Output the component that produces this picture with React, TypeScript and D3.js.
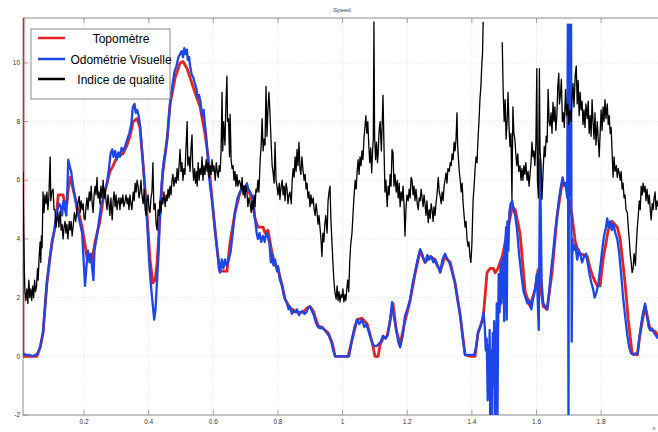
import React from "react";
import * as d3 from "d3";

type P = [number, number | null];

const xTicks = [0.2, 0.4, 0.6, 0.8, 1, 1.2, 1.4, 1.6, 1.8];
const yTicks = [-2, 0, 2, 4, 6, 8, 10];
const legendLabels = ["Topomètre", "Odométrie Visuelle", "Indice de qualité"];
const seriesColors = ["#e5231f", "#1c46e6", "#000000"];

const topometre: P[] = [
  [0.011, 12], [0.011, 0], [0.054, 0], [0.064, 0.3], [0.073, 0.8], [0.085, 2.5], [0.095, 3.4], [0.101, 3.9],
  [0.110, 4.4], [0.116, 5.0], [0.120, 5.5], [0.135, 5.5], [0.141, 5.2], [0.147, 5.2], [0.152, 5.8], [0.157, 6.1],
  [0.166, 5.7], [0.181, 5.0], [0.194, 4.4], [0.203, 3.8], [0.209, 3.35], [0.225, 3.3], [0.234, 3.9], [0.249, 4.6],
  [0.259, 5.35], [0.271, 5.9], [0.280, 6.3], [0.290, 6.5], [0.302, 6.8], [0.320, 6.9], [0.333, 7.2], [0.342, 7.5],
  [0.352, 8.0], [0.364, 8.1], [0.373, 7.8], [0.383, 6.5], [0.395, 4.8], [0.404, 3.3], [0.413, 2.5], [0.420, 2.6],
  [0.426, 3.2], [0.435, 4.8], [0.444, 6.3], [0.457, 7.4], [0.466, 8.6], [0.482, 9.5], [0.497, 10.0], [0.506, 10.05],
  [0.519, 9.8], [0.528, 9.5], [0.543, 9.0], [0.559, 8.5], [0.574, 7.6], [0.584, 6.8], [0.599, 5.0], [0.612, 3.6],
  [0.621, 2.9], [0.642, 2.9], [0.652, 3.9], [0.667, 4.9], [0.683, 5.6], [0.698, 5.8], [0.708, 5.7], [0.720, 5.3],
  [0.729, 4.7], [0.738, 4.4], [0.754, 4.4], [0.760, 4.2], [0.769, 4.3], [0.782, 3.5], [0.791, 3.1], [0.800, 3.0],
  [0.813, 2.4], [0.822, 1.95], [0.837, 1.65], [0.859, 1.5], [0.878, 1.5], [0.890, 1.65], [0.899, 1.7], [0.909, 1.55],
  [0.924, 1.05], [0.940, 0.95], [0.955, 0.8], [0.968, 0.45], [0.977, 0], [1.017, 0], [1.029, 0.55], [1.045, 1.25],
  [1.060, 1.3], [1.076, 1.1], [1.091, 0.5], [1.100, 0], [1.110, 0], [1.116, 0.4], [1.125, 0.6], [1.138, 0.7],
  [1.147, 1.2], [1.156, 1.8], [1.166, 0.9], [1.178, 0.4], [1.193, 1.2], [1.209, 1.9], [1.224, 2.8], [1.240, 3.6],
  [1.255, 3.2], [1.271, 3.4], [1.286, 3.3], [1.302, 2.9], [1.317, 3.4], [1.333, 3.2], [1.348, 2.5], [1.364, 1.4],
  [1.379, 0.05], [1.398, 0], [1.410, 0], [1.419, 0.8], [1.435, 1.3], [1.447, 2.85], [1.457, 3.0], [1.466, 3.0],
  [1.472, 2.85], [1.481, 3.0], [1.494, 3.4], [1.509, 4.2], [1.525, 5.1], [1.534, 5.0], [1.549, 4.2], [1.565, 2.2],
  [1.580, 1.7], [1.596, 2.3], [1.605, 2.95], [1.621, 1.7], [1.633, 1.6], [1.648, 2.85], [1.664, 4.8], [1.679, 5.9],
  [1.689, 5.9], [1.698, 5.5], [1.710, 4.8], [1.720, 3.9], [1.726, 3.7], [1.735, 3.5], [1.757, 3.4], [1.766, 3.0],
  [1.775, 2.7], [1.788, 2.4], [1.797, 2.4], [1.806, 3.3], [1.822, 4.3], [1.834, 4.6], [1.850, 4.4], [1.859, 4.0],
  [1.874, 2.5], [1.884, 1.25], [1.896, 0.1], [1.912, 0.05], [1.921, 0.8], [1.936, 1.7], [1.952, 0.9], [1.967, 0.85],
  [1.976, 0.7],
];

const odometrie: P[] = [
  [0.011, 0.1], [0.020, 0.05], [0.030, 0.05], [0.040, 0.0], [0.050, 0.05], [0.056, 0.1], [0.064, 0.3], [0.073, 0.8],
  [0.080, 1.8], [0.085, 2.5], [0.092, 3.2], [0.101, 3.9], [0.108, 4.3], [0.113, 4.7], [0.118, 5.0], [0.123, 5.2],
  [0.128, 5.1], [0.132, 4.8], [0.136, 5.3], [0.141, 5.0], [0.145, 4.8], [0.148, 5.6], [0.151, 6.7], [0.155, 6.5],
  [0.160, 6.3], [0.166, 5.8], [0.172, 5.4], [0.178, 5.0], [0.186, 4.6], [0.194, 4.2], [0.199, 3.2], [0.203, 2.4],
  [0.207, 3.0], [0.212, 3.6], [0.217, 3.2], [0.221, 3.5], [0.226, 2.9], [0.229, 2.6], [0.232, 3.6], [0.238, 4.0],
  [0.246, 4.6], [0.253, 5.2], [0.259, 5.35], [0.265, 5.7], [0.271, 5.9], [0.277, 6.4], [0.282, 6.9], [0.287, 7.05],
  [0.291, 6.8], [0.296, 7.0], [0.301, 6.7], [0.306, 6.95], [0.311, 6.8], [0.316, 7.1], [0.322, 7.0], [0.328, 7.2],
  [0.334, 7.4], [0.340, 7.6], [0.346, 7.9], [0.351, 8.5], [0.356, 8.6], [0.360, 8.3], [0.364, 8.4], [0.369, 8.2],
  [0.373, 7.85], [0.378, 7.2], [0.383, 6.5], [0.390, 5.4], [0.395, 4.6], [0.401, 3.3], [0.407, 2.4], [0.413, 1.7],
  [0.417, 1.25], [0.421, 1.6], [0.426, 2.6], [0.431, 3.6], [0.435, 5.0], [0.440, 5.9], [0.446, 6.6], [0.452, 7.0],
  [0.458, 7.5], [0.463, 8.2], [0.468, 8.8], [0.474, 9.3], [0.480, 9.7], [0.486, 9.9], [0.492, 10.2], [0.497, 10.3],
  [0.502, 10.4], [0.506, 10.2], [0.510, 10.5], [0.514, 10.3], [0.518, 10.45], [0.521, 10.1], [0.525, 10.2], [0.528, 9.9],
  [0.533, 9.6], [0.538, 9.5], [0.543, 9.3], [0.548, 9.1], [0.552, 8.8], [0.556, 8.9], [0.560, 8.7], [0.565, 8.2],
  [0.570, 8.4], [0.574, 7.9], [0.578, 7.5], [0.582, 6.9], [0.586, 6.2], [0.590, 5.8], [0.595, 5.4], [0.599, 5.0],
  [0.605, 4.3], [0.612, 3.65], [0.617, 3.0], [0.621, 2.85], [0.626, 3.3], [0.631, 3.0], [0.636, 3.3], [0.641, 3.1],
  [0.648, 3.3], [0.654, 3.6], [0.658, 4.0], [0.667, 4.9], [0.675, 5.4], [0.683, 5.6], [0.690, 5.8], [0.698, 5.75],
  [0.704, 5.9], [0.708, 5.7], [0.714, 5.6], [0.720, 5.45], [0.725, 5.2], [0.729, 4.7], [0.734, 4.2], [0.738, 4.0],
  [0.743, 4.2], [0.748, 3.9], [0.754, 4.1], [0.759, 3.9], [0.764, 4.2], [0.769, 4.1], [0.774, 3.8], [0.778, 3.2],
  [0.782, 3.5], [0.786, 3.1], [0.791, 3.3], [0.797, 2.9], [0.800, 3.07], [0.806, 2.6], [0.813, 2.4], [0.818, 2.1],
  [0.822, 1.95], [0.828, 1.8], [0.833, 1.6], [0.837, 1.7], [0.843, 1.45], [0.848, 1.55], [0.853, 1.5], [0.859, 1.6],
  [0.865, 1.4], [0.870, 1.5], [0.876, 1.55], [0.882, 1.45], [0.888, 1.5], [0.893, 1.65], [0.899, 1.7], [0.905, 1.55],
  [0.911, 1.4], [0.917, 1.15], [0.924, 1.0], [0.930, 0.95], [0.937, 1.0], [0.944, 0.9], [0.951, 0.8], [0.958, 0.7],
  [0.965, 0.5], [0.971, 0.2], [0.977, 0], [1.020, 0], [1.029, 0.57], [1.037, 1.0], [1.045, 1.25], [1.052, 1.1],
  [1.060, 1.25], [1.067, 1.0], [1.074, 1.1], [1.082, 0.8], [1.091, 0.47], [1.098, 0.35], [1.105, 0.35], [1.110, 0.4],
  [1.118, 0.5], [1.125, 0.7], [1.133, 0.6], [1.140, 0.75], [1.147, 1.25], [1.153, 1.85], [1.158, 1.4], [1.166, 0.9],
  [1.172, 0.5], [1.178, 0.3], [1.186, 0.7], [1.193, 1.37], [1.203, 1.7], [1.209, 1.95], [1.217, 2.5], [1.224, 2.85],
  [1.232, 3.3], [1.240, 3.65], [1.246, 3.5], [1.251, 3.3], [1.256, 3.2], [1.262, 3.45], [1.268, 3.3], [1.274, 3.4],
  [1.281, 3.2], [1.286, 3.3], [1.292, 3.1], [1.298, 3.0], [1.302, 2.85], [1.309, 3.3], [1.317, 3.5], [1.324, 3.3],
  [1.330, 3.2], [1.336, 3.0], [1.343, 2.7], [1.348, 2.5], [1.356, 1.9], [1.364, 1.37], [1.371, 0.7], [1.379, 0.05],
  [1.395, 0.05], [1.407, 0.05], [1.413, 0.3], [1.419, 0.8], [1.426, 1.0], [1.432, 1.25], [1.436, 1.5], [1.440, 1.0],
  [1.443, 0.2], [1.446, 0.6], [1.449, -1.5], [1.451, 0.4], [1.453, -0.8], [1.455, 0.9], [1.457, -2.5], [1.459, 0.2],
  [1.461, -2.5], [1.463, -0.4], [1.465, 0.8], [1.467, -1.0], [1.469, 1.2], [1.471, -2.5], [1.473, 0.5], [1.475, -0.5],
  [1.477, 1.8], [1.479, -2.5], [1.481, 0.6], [1.483, 2.8], [1.486, 1.5], [1.489, 3.2], [1.491, 1.8], [1.494, 2.6],
  [1.497, 3.4], [1.500, 1.2], [1.503, 3.8], [1.506, 4.4], [1.508, 1.25], [1.510, 4.6], [1.513, 3.6], [1.516, 4.9],
  [1.520, 5.2], [1.525, 5.3], [1.529, 5.0], [1.534, 4.8], [1.540, 4.3], [1.546, 3.5], [1.553, 2.8], [1.560, 2.2],
  [1.566, 2.0], [1.572, 1.8], [1.578, 1.9], [1.584, 1.6], [1.590, 2.0], [1.596, 2.3], [1.601, 2.8], [1.607, 0.9],
  [1.611, 6.7], [1.616, 2.5], [1.621, 1.8], [1.627, 1.7], [1.633, 1.6], [1.639, 2.2], [1.645, 2.9], [1.652, 3.6],
  [1.658, 4.3], [1.664, 4.8], [1.670, 5.4], [1.676, 5.8], [1.681, 6.1], [1.686, 5.8], [1.690, 5.9], [1.695, 5.4],
  [1.697, 11.3], [1.699, -2.5], [1.701, 11.3], [1.703, 5.5], [1.707, 11.3], [1.709, 0.5], [1.711, 4.0], [1.714, 3.6],
  [1.720, 3.8], [1.726, 3.3], [1.731, 3.6], [1.735, 3.5], [1.741, 3.2], [1.747, 3.4], [1.753, 3.5], [1.758, 3.2],
  [1.764, 2.8], [1.770, 2.5], [1.775, 2.3], [1.780, 2.0], [1.786, 2.2], [1.792, 2.5], [1.797, 3.0], [1.803, 3.6],
  [1.809, 4.1], [1.815, 4.4], [1.819, 4.7], [1.823, 4.4], [1.828, 4.6], [1.833, 4.3], [1.838, 4.5], [1.844, 4.2],
  [1.850, 4.0], [1.856, 3.5], [1.862, 2.8], [1.868, 2.0], [1.874, 1.4], [1.880, 0.8], [1.887, 0.3], [1.893, 0.1],
  [1.900, 0.05], [1.908, 0.1], [1.913, 0.1], [1.918, 0.6], [1.924, 1.1], [1.930, 1.5], [1.936, 1.8], [1.942, 1.4],
  [1.947, 1.0], [1.952, 0.9], [1.958, 0.95], [1.964, 0.8], [1.970, 0.7], [1.976, 0.6],
];

const indiceQualite: P[] = [
  [0.011, 6.3], [0.013, 4.5], [0.015, 3.0], [0.017, 2.2], [0.020, 1.9], [0.023, 2.3], [0.026, 1.8], [0.029, 2.6],
  [0.032, 2.0], [0.035, 2.3], [0.038, 1.9], [0.041, 2.4], [0.044, 2.0], [0.047, 2.6], [0.050, 2.2], [0.053, 2.4],
  [0.056, 3.0], [0.058, 2.6], [0.061, 3.4], [0.064, 3.9], [0.066, 3.2], [0.068, 4.1], [0.070, 3.7], [0.073, 5.6],
  [0.076, 4.9], [0.079, 5.5], [0.082, 5.2], [0.085, 5.6], [0.088, 5.0], [0.091, 5.4], [0.095, 6.8], [0.097, 5.3],
  [0.100, 5.6], [0.104, 5.7], [0.107, 5.0], [0.110, 5.0], [0.113, 4.4], [0.116, 4.65], [0.119, 4.9], [0.122, 4.4],
  [0.126, 4.95], [0.129, 4.3], [0.132, 4.5], [0.135, 4.0], [0.138, 4.4], [0.141, 4.6], [0.144, 4.2], [0.147, 4.5],
  [0.150, 4.0], [0.154, 4.6], [0.157, 4.3], [0.160, 4.6], [0.163, 4.1], [0.166, 4.4], [0.170, 4.9], [0.174, 4.6],
  [0.178, 5.0], [0.182, 5.3], [0.185, 5.45], [0.188, 4.9], [0.191, 5.3], [0.194, 5.0], [0.197, 5.2], [0.200, 4.7],
  [0.203, 4.65], [0.206, 5.1], [0.209, 5.4], [0.212, 5.0], [0.216, 5.6], [0.219, 5.3], [0.222, 5.8], [0.225, 5.2],
  [0.228, 4.9], [0.231, 5.5], [0.234, 5.8], [0.237, 5.5], [0.240, 6.1], [0.243, 5.4], [0.246, 5.6], [0.249, 5.2],
  [0.252, 5.8], [0.255, 5.4], [0.259, 6.0], [0.262, 5.4], [0.265, 5.7], [0.268, 5.3], [0.271, 5.0], [0.274, 5.5],
  [0.277, 5.2], [0.280, 4.8], [0.283, 5.4], [0.287, 4.65], [0.290, 5.3], [0.293, 5.6], [0.296, 5.1], [0.299, 5.5],
  [0.302, 5.0], [0.305, 5.3], [0.308, 5.4], [0.311, 5.0], [0.314, 5.4], [0.317, 5.2], [0.320, 5.5], [0.323, 5.1],
  [0.327, 5.3], [0.330, 5.5], [0.333, 5.2], [0.336, 5.4], [0.339, 5.0], [0.342, 5.5], [0.345, 5.2], [0.348, 5.0],
  [0.352, 5.6], [0.355, 5.3], [0.358, 5.9], [0.361, 5.6], [0.364, 6.0], [0.367, 5.8], [0.370, 5.4], [0.373, 5.6],
  [0.376, 6.0], [0.379, 5.5], [0.383, 5.2], [0.386, 5.7], [0.389, 5.0], [0.392, 4.8], [0.395, 5.3], [0.398, 5.5],
  [0.401, 5.0], [0.404, 4.9], [0.407, 5.4], [0.410, 5.6], [0.413, 6.6], [0.416, 5.0], [0.420, 5.2], [0.423, 4.5],
  [0.426, 4.3], [0.429, 5.0], [0.432, 4.8], [0.435, 5.3], [0.438, 4.9], [0.441, 5.4], [0.444, 5.2], [0.447, 5.6],
  [0.451, 5.1], [0.454, 5.5], [0.457, 5.3], [0.460, 5.7], [0.463, 5.4], [0.466, 5.8], [0.469, 5.5], [0.472, 6.0],
  [0.475, 6.2], [0.478, 5.8], [0.482, 6.1], [0.485, 5.9], [0.488, 6.4], [0.491, 6.0], [0.494, 6.5], [0.497, 7.05],
  [0.500, 6.3], [0.503, 6.6], [0.506, 6.0], [0.509, 6.4], [0.512, 6.2], [0.515, 7.0], [0.519, 8.0], [0.521, 6.5],
  [0.525, 6.8], [0.528, 6.3], [0.531, 7.1], [0.534, 7.55], [0.536, 6.5], [0.539, 6.0], [0.542, 6.4], [0.545, 5.9],
  [0.548, 6.3], [0.550, 5.8], [0.553, 6.6], [0.556, 6.0], [0.559, 6.4], [0.562, 6.2], [0.565, 6.8], [0.568, 6.0],
  [0.571, 6.5], [0.574, 6.2], [0.578, 6.7], [0.581, 6.3], [0.584, 6.6], [0.587, 6.1], [0.590, 6.5], [0.593, 6.2],
  [0.596, 6.7], [0.599, 6.3], [0.602, 6.5], [0.606, 6.0], [0.609, 6.6], [0.612, 6.3], [0.615, 6.1], [0.618, 6.5],
  [0.621, 6.3], [0.624, 7.0], [0.627, 9.0], [0.629, 7.0], [0.632, 8.0], [0.636, 7.2], [0.639, 8.6], [0.642, 9.55],
  [0.644, 8.0], [0.647, 8.1], [0.650, 6.8], [0.652, 8.25], [0.655, 6.7], [0.658, 6.4], [0.661, 6.5], [0.664, 6.0],
  [0.667, 6.3], [0.670, 5.8], [0.673, 6.2], [0.676, 5.8], [0.680, 6.0], [0.683, 5.9], [0.686, 5.7], [0.689, 6.1],
  [0.692, 5.5], [0.695, 5.8], [0.698, 5.4], [0.701, 5.8], [0.704, 5.6], [0.707, 5.1], [0.710, 5.4], [0.714, 5.2],
  [0.717, 4.9], [0.720, 5.3], [0.723, 5.0], [0.726, 5.5], [0.729, 5.1], [0.732, 5.7], [0.735, 5.6], [0.738, 6.0],
  [0.741, 5.6], [0.745, 6.7], [0.748, 7.2], [0.751, 8.1], [0.754, 7.0], [0.757, 7.4], [0.760, 7.2], [0.763, 9.2],
  [0.766, 7.5], [0.769, 8.4], [0.772, 9.0], [0.775, 8.35], [0.778, 7.5], [0.782, 6.5], [0.785, 6.25], [0.788, 5.9],
  [0.791, 7.3], [0.794, 6.0], [0.797, 5.8], [0.800, 5.5], [0.804, 5.9], [0.806, 5.35], [0.810, 5.8], [0.813, 6.0],
  [0.816, 5.5], [0.819, 5.8], [0.822, 5.3], [0.825, 5.9], [0.828, 5.7], [0.831, 5.2], [0.834, 5.5], [0.837, 5.6],
  [0.841, 5.2], [0.844, 6.0], [0.847, 6.4], [0.850, 6.1], [0.853, 6.8], [0.856, 6.3], [0.859, 7.05], [0.862, 6.5],
  [0.865, 7.3], [0.868, 6.4], [0.871, 6.2], [0.874, 6.8], [0.878, 6.3], [0.881, 6.0], [0.884, 6.2], [0.887, 5.7],
  [0.890, 5.9], [0.893, 5.4], [0.896, 5.6], [0.899, 5.1], [0.902, 5.5], [0.905, 5.2], [0.909, 5.4], [0.912, 5.0],
  [0.915, 4.8], [0.918, 5.2], [0.921, 4.9], [0.924, 4.5], [0.927, 4.8], [0.930, 4.4], [0.933, 4.0], [0.936, 3.4],
  [0.939, 4.2], [0.942, 3.9], [0.945, 4.5], [0.948, 4.8], [0.952, 4.2], [0.955, 5.3], [0.958, 5.6], [0.961, 5.8],
  [0.964, 4.6], [0.967, 3.9], [0.970, 3.2], [0.973, 2.6], [0.976, 2.2], [0.980, 1.95], [0.983, 2.4], [0.986, 1.9],
  [0.989, 2.2], [0.992, 1.85], [0.995, 2.1], [0.998, 2.0], [1.001, 2.3], [1.004, 1.85], [1.007, 2.1], [1.010, 1.9],
  [1.013, 2.3], [1.016, 2.6], [1.019, 2.2], [1.022, 3.2], [1.025, 3.8], [1.029, 4.2], [1.032, 4.8], [1.035, 5.4],
  [1.039, 6.0], [1.042, 5.7], [1.045, 6.3], [1.048, 6.7], [1.051, 6.2], [1.054, 6.8], [1.057, 6.5], [1.060, 7.0],
  [1.063, 6.7], [1.066, 7.4], [1.069, 7.8], [1.072, 8.2], [1.075, 7.6], [1.078, 8.0], [1.081, 7.2], [1.084, 6.6],
  [1.087, 7.1], [1.090, 6.25], [1.093, 7.05], [1.095, 7.4], [1.097, 11.4], [1.099, 7.5], [1.102, 6.7], [1.105, 7.3],
  [1.108, 6.6], [1.110, 6.9], [1.113, 7.7], [1.116, 8.0], [1.120, 7.0], [1.125, 8.9], [1.128, 7.2], [1.131, 5.6],
  [1.134, 6.0], [1.138, 5.1], [1.141, 5.8], [1.144, 5.5], [1.147, 6.2], [1.150, 5.8], [1.153, 7.05], [1.156, 6.95],
  [1.159, 5.8], [1.162, 6.2], [1.166, 5.6], [1.169, 6.0], [1.172, 5.4], [1.175, 5.9], [1.178, 5.1], [1.181, 5.6],
  [1.184, 5.3], [1.187, 5.8], [1.190, 5.2], [1.193, 4.1], [1.196, 5.0], [1.199, 5.5], [1.203, 5.3], [1.206, 5.7],
  [1.209, 5.4], [1.212, 6.1], [1.215, 6.0], [1.218, 5.5], [1.221, 5.8], [1.224, 5.3], [1.227, 5.7], [1.231, 5.2],
  [1.234, 5.0], [1.237, 5.4], [1.240, 5.3], [1.243, 5.7], [1.246, 5.4], [1.249, 5.1], [1.252, 5.5], [1.255, 5.2],
  [1.258, 4.8], [1.261, 5.3], [1.265, 4.55], [1.268, 5.0], [1.271, 4.7], [1.274, 5.2], [1.277, 5.0], [1.280, 4.6],
  [1.283, 5.1], [1.286, 4.8], [1.289, 5.2], [1.292, 5.5], [1.296, 6.1], [1.299, 5.6], [1.302, 5.45], [1.305, 5.2],
  [1.308, 5.6], [1.311, 5.3], [1.314, 5.8], [1.317, 6.0], [1.320, 6.25], [1.323, 5.9], [1.326, 6.4], [1.330, 6.3],
  [1.333, 6.6], [1.336, 6.5], [1.339, 6.9], [1.342, 6.7], [1.345, 7.3], [1.348, 7.0], [1.351, 7.4], [1.354, 8.3],
  [1.356, 7.2], [1.358, 6.8], [1.361, 6.3], [1.364, 6.0], [1.367, 5.6], [1.370, 5.9], [1.373, 5.2], [1.376, 4.8],
  [1.379, 4.4], [1.382, 4.6], [1.385, 4.0], [1.388, 3.75], [1.391, 3.9], [1.394, 3.4], [1.397, 3.2], [1.400, 3.8],
  [1.402, 4.6], [1.404, 5.35], [1.407, 5.8], [1.410, 6.4], [1.413, 6.8], [1.416, 6.6], [1.419, 7.4], [1.422, 8.0],
  [1.425, 8.75], [1.428, 9.2], [1.431, 10.0], [1.433, 10.3], [1.435, 11.4], [1.436, null], [1.494, 10.7],
  [1.497, 9.0], [1.500, 8.0], [1.503, 8.75], [1.506, 7.4], [1.509, 8.0], [1.512, 9.0], [1.515, 7.8], [1.518, 7.15],
  [1.521, 7.6], [1.524, 5.35], [1.527, 8.5], [1.530, 7.6], [1.533, 7.4], [1.536, 6.9], [1.539, 6.5], [1.542, 6.9],
  [1.545, 6.3], [1.549, 6.5], [1.552, 6.0], [1.555, 6.4], [1.558, 6.0], [1.561, 6.5], [1.564, 6.2], [1.567, 6.6],
  [1.571, 6.0], [1.574, 6.3], [1.577, 5.8], [1.580, 6.2], [1.583, 6.6], [1.586, 7.3], [1.589, 6.8], [1.592, 7.0],
  [1.595, 6.5], [1.598, 7.2], [1.601, 9.8], [1.603, 6.0], [1.606, 5.4], [1.609, 9.8], [1.611, 7.0], [1.614, 6.5],
  [1.617, 5.35], [1.620, 6.2], [1.624, 7.15], [1.627, 6.8], [1.630, 7.5], [1.633, 7.3], [1.636, 9.1], [1.639, 8.0],
  [1.642, 7.85], [1.645, 8.3], [1.648, 7.6], [1.651, 8.65], [1.654, 8.0], [1.657, 8.5], [1.660, 7.7], [1.663, 8.2],
  [1.666, 9.2], [1.669, 9.65], [1.671, 8.6], [1.674, 8.9], [1.677, 9.45], [1.680, 8.0], [1.683, 8.3], [1.686, 7.8],
  [1.690, 9.1], [1.693, 8.2], [1.697, 8.6], [1.700, 7.9], [1.703, 8.4], [1.707, 8.0], [1.710, 8.8], [1.713, 9.3],
  [1.716, 8.5], [1.720, 9.6], [1.723, 9.9], [1.726, 8.6], [1.729, 9.4], [1.732, 8.2], [1.735, 9.0], [1.738, 8.4],
  [1.741, 8.7], [1.744, 7.9], [1.747, 8.4], [1.750, 7.8], [1.753, 8.6], [1.757, 8.1], [1.760, 8.7], [1.763, 7.6],
  [1.766, 8.2], [1.769, 7.5], [1.772, 8.75], [1.775, 8.0], [1.778, 7.4], [1.781, 8.3], [1.784, 7.2], [1.788, 8.0],
  [1.791, 7.4], [1.794, 6.8], [1.797, 7.6], [1.800, 8.4], [1.803, 7.7], [1.806, 8.5], [1.809, 8.0], [1.812, 8.75],
  [1.815, 8.1], [1.819, 8.6], [1.822, 7.9], [1.825, 8.2], [1.828, 7.6], [1.831, 7.8], [1.834, 6.95], [1.837, 6.1],
  [1.840, 6.8], [1.843, 6.3], [1.847, 6.5], [1.850, 6.1], [1.853, 6.4], [1.856, 6.25], [1.859, 6.0], [1.862, 6.3],
  [1.865, 5.7], [1.868, 5.9], [1.871, 5.4], [1.874, 5.5], [1.877, 5.0], [1.881, 4.9], [1.884, 4.4], [1.887, 4.0],
  [1.890, 3.5], [1.893, 3.2], [1.896, 2.85], [1.899, 3.0], [1.902, 3.5], [1.906, 3.1], [1.909, 3.8], [1.912, 4.4],
  [1.915, 4.8], [1.918, 5.3], [1.921, 5.0], [1.924, 5.8], [1.927, 5.5], [1.930, 5.9], [1.933, 5.6], [1.936, 5.8],
  [1.939, 5.3], [1.942, 5.7], [1.946, 5.2], [1.949, 5.5], [1.952, 5.0], [1.955, 4.65], [1.958, 5.2], [1.961, 5.0],
  [1.964, 5.4], [1.967, 5.6], [1.970, 5.0], [1.973, 5.3], [1.976, 5.1],
];

const W = 658;
const H = 432;
const left = 23;
const top = 18;
const right = 658;
const bottom = 415;

export default function App() {
  const x = d3.scaleLinear().domain([0.011, 1.976]).range([left, right]);
  const y = d3.scaleLinear().domain([-2, 11.53]).range([bottom, top]);
  const line = d3
    .line<P>()
    .defined((d) => d[1] !== null)
    .x((d) => x(d[0]))
    .y((d) => y(d[1] as number));

  const series = [
    { data: topometre, color: seriesColors[0], width: 2.8 },
    { data: odometrie, color: seriesColors[1], width: 2.3 },
    { data: indiceQualite, color: seriesColors[2], width: 1.3 },
  ];

  const font = "Liberation Sans, Arial, Helvetica, sans-serif";
  const legendY = [38, 59, 79];

  return (
    <svg
      width={W}
      height={H}
      style={{ position: "absolute", left: 0, top: 0, background: "#fff" }}
      fontFamily={font}
    >
      <rect x={0} y={0} width={W} height={H} fill="#fff" />
      <defs>
        <clipPath id="plotclip">
          <rect x={left} y={top} width={right - left} height={bottom - top} />
        </clipPath>
      </defs>
      {/* grid */}
      {xTicks.map((t) => (
        <line key={"gx" + t} x1={x(t)} x2={x(t)} y1={top} y2={bottom} stroke="#e2e2e2" strokeWidth={0.8} strokeDasharray="1.5,1.5" />
      ))}
      {yTicks.filter((t) => t > -2).map((t) => (
        <line key={"gy" + t} x1={left} x2={right} y1={y(t)} y2={y(t)} stroke="#e2e2e2" strokeWidth={0.8} strokeDasharray="1.5,1.5" />
      ))}
      {/* frame */}
      <line x1={left} x2={right} y1={top} y2={top} stroke="#8a8a8a" strokeWidth={1} />
      <line x1={left} x2={right} y1={bottom} y2={bottom} stroke="#8a8a8a" strokeWidth={1} />
      <line x1={left} x2={left} y1={top} y2={bottom} stroke="#8a8a8a" strokeWidth={1} />
      {/* ticks */}
      {xTicks.map((t) => (
        <g key={"tx" + t}>
          <line x1={x(t)} x2={x(t)} y1={bottom} y2={bottom - 5} stroke="#8a8a8a" strokeWidth={0.8} />
          <line x1={x(t)} x2={x(t)} y1={top} y2={top + 5} stroke="#8a8a8a" strokeWidth={0.8} />
          <text x={x(t)} y={424} fontSize={6.5} textAnchor="middle" fill="#333">
            {String(t)}
          </text>
        </g>
      ))}
      {yTicks.map((t) => (
        <g key={"ty" + t}>
          <line x1={left} x2={left + 5} y1={y(t)} y2={y(t)} stroke="#8a8a8a" strokeWidth={0.8} />
          <text x={20} y={y(t) + 2.2} fontSize={6.5} textAnchor="end" fill="#333">
            {String(t)}
          </text>
        </g>
      ))}
      <text x={342} y={12} fontSize={6} textAnchor="middle" fill="#444">Speed</text>
      <text x={654} y={430} fontSize={6} textAnchor="middle" fill="#444">x</text>
      {/* series */}
      <g clipPath="url(#plotclip)">
        {series.map((s, i) => (
          <path key={i} d={line(s.data) || ""} fill="none" stroke={s.color} strokeWidth={s.width} strokeLinejoin="round" />
        ))}
      </g>
      {/* legend */}
      <rect x={31} y={29} width={139} height={70} fill="#fff" stroke="#8a8a8a" strokeWidth={1} />
      {legendLabels.map((lab, i) => (
        <g key={lab}>
          <line x1={38} x2={65} y1={legendY[i]} y2={legendY[i]} stroke={seriesColors[i]} strokeWidth={2.5} />
          <text x={121} y={legendY[i] + 4.5} fontSize={12} textAnchor="middle" fill="#000">
            {lab}
          </text>
        </g>
      ))}
    </svg>
  );
}
